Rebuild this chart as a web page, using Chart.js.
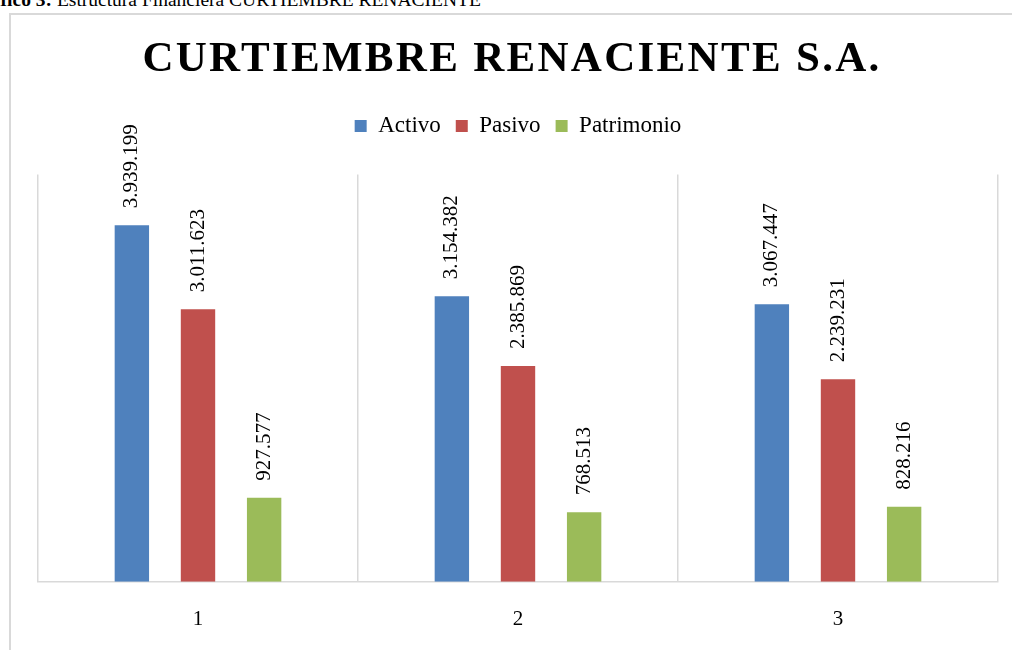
<!DOCTYPE html>
<html>
<head>
<meta charset="utf-8">
<script src="https://cdn.jsdelivr.net/npm/chart.js@4"></script>
<style>
    html, body { margin: 0; padding: 0; background: #fff; overflow: hidden; }
    #caption {
        position: absolute; left: -33px; top: -10px; white-space: nowrap;
        font-family: 'Liberation Serif', 'Times New Roman', serif;
        font-size: 19.5px; line-height: 20px; color: #000;
    }
    #frame {
        position: absolute; left: 9px; top: 13px; width: 1100px; height: 700px;
        border: 2px solid #d9d9d9; box-sizing: border-box;
    }
    #wrap { position: absolute; left: 0; top: 0; width: 1012px; height: 650px; }
</style>
</head>
<body>
<div id="caption"><b>Gráfico 3:</b> Estructura Financiera CURTIEMBRE RENACIENTE</div>
<div id="frame"></div>
<div id="wrap"><canvas id="chart"></canvas></div>
<script>
const categories = ['1', '2', '3'];
const activo = [3939199, 3154382, 3067447];
const pasivo = [3011623, 2385869, 2239231];
const patrimonio = [927577, 768513, 828216];

const SERIF = "'Liberation Serif', 'Times New Roman', serif";
const legendGap = 27;

function formatValue(v) {
    return String(v).replace(/\B(?=(\d{3})+(?!\d))/g, '.');
}

// spacing tweaks for the title and the room under the legend
const layoutTweaks = {
    id: 'layoutTweaks',
    afterInit(chart) {
        const title = chart.titleBlock;
        const draw = title.draw;
        title.draw = function() {
            this.ctx.save();
            this.ctx.letterSpacing = '2.3px';
            this.ctx.translate(-6, 0);
            draw.call(this);
            this.ctx.restore();
        };
        const legend = chart.legend;
        const fit = legend.fit;
        legend.fit = function() {
            fit.call(this);
            this.height += legendGap;
        };
    }
};

// vertical value labels above each bar
const valueLabels = {
    id: 'valueLabels',
    afterDatasetsDraw(chart) {
        const ctx = chart.ctx;
        ctx.save();
        ctx.font = '21px ' + SERIF;
        ctx.fillStyle = '#000';
        ctx.textAlign = 'left';
        ctx.textBaseline = 'middle';
        chart.data.datasets.forEach((ds, i) => {
            chart.getDatasetMeta(i).data.forEach((bar, j) => {
                ctx.save();
                ctx.translate(bar.x, bar.y - 17);
                ctx.rotate(-Math.PI / 2);
                ctx.fillText(formatValue(ds.data[j]), 0, 0);
                ctx.restore();
            });
        });
        ctx.restore();
    }
};

new Chart(document.getElementById('chart'), {
    type: 'bar',
    data: {
        labels: categories,
        datasets: [
            { label: 'Activo', data: activo, backgroundColor: '#4f81bd', borderWidth: 0 },
            { label: 'Pasivo', data: pasivo, backgroundColor: '#c0504d', borderWidth: 0 },
            { label: 'Patrimonio', data: patrimonio, backgroundColor: '#9bbb59', borderWidth: 0 }
        ]
    },
    options: {
        responsive: true,
        maintainAspectRatio: false,
        animation: false,
        categoryPercentage: 0.62,
        barPercentage: 0.52,
        layout: { padding: { top: 0, left: 38, right: 14, bottom: -7 } },
        plugins: {
            title: {
                display: true,
                text: 'CURTIEMBRE RENACIENTE S.A.',
                color: '#000',
                font: { family: SERIF, size: 43, weight: 'bold' },
                padding: { top: 34, bottom: 14 }
            },
            legend: {
                display: true,
                position: 'top',
                labels: {
                    color: '#000',
                    font: { family: SERIF, size: 23 },
                    boxWidth: 12,
                    boxHeight: 12,
                    padding: 15
                }
            },
            tooltip: { enabled: false }
        },
        scales: {
            x: {
                grid: { color: '#d9d9d9', lineWidth: 1.5, drawTicks: false, offset: true },
                border: { color: '#d9d9d9', width: 1.5 },
                ticks: { color: '#000', font: { family: SERIF, size: 21 }, padding: 25 }
            },
            y: {
                display: false,
                min: 0,
                max: 4500000
            }
        }
    },
    plugins: [layoutTweaks, valueLabels]
});
</script>
</body>
</html>
